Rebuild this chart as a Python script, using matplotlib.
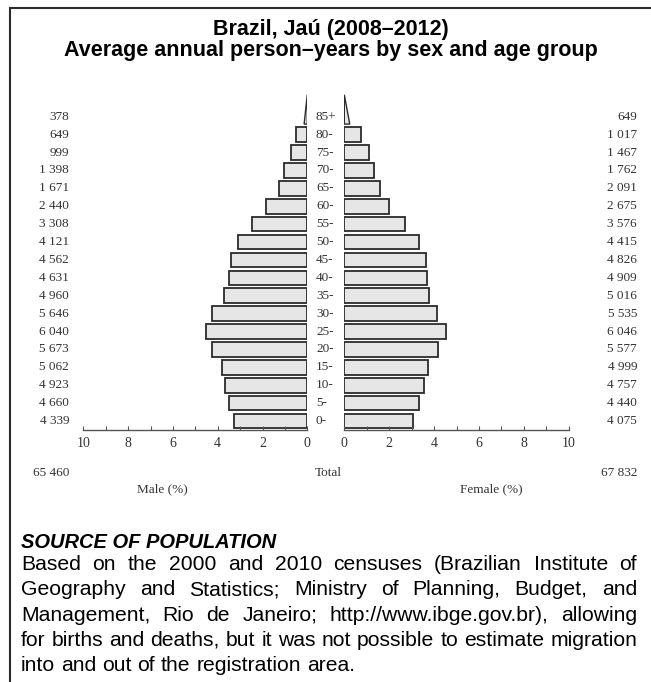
import matplotlib
matplotlib.use('Agg')
from matplotlib import pyplot as plt
from matplotlib.patches import Polygon
from matplotlib.lines import Line2D
import matplotlib.transforms as mtransforms
import numpy as np


age_groups = ['0-', '5-', '10-', '15-', '20-', '25-', '30-', '35-', '40-',
              '45-', '50-', '55-', '60-', '65-', '70-', '75-', '80-', '85+']
male = [4339, 4660, 4923, 5062, 5673, 6040, 5646, 4960, 4631,
        4562, 4121, 3308, 2440, 1671, 1398, 999, 649, 378]
female = [4075, 4440, 4757, 4999, 5577, 6046, 5535, 5016, 4909,
          4826, 4415, 3576, 2675, 2091, 1762, 1467, 1017, 649]
male_total = 65460
female_total = 67832
x_ticks = [0, 2, 4, 6, 8, 10]

title = 'Brazil, Jaú (2008–2012)\nAverage annual person–years by sex and age group'
source_head = 'SOURCE OF POPULATION'
source_lines = [
    'Based on the 2000 and 2010 censuses (Brazilian Institute of',
    'Geography and Statistics; Ministry of Planning, Budget, and',
    'Management, Rio de Janeiro; http://www.ibge.gov.br), allowing',
    'for births and deaths, but it was not possible to estimate migration',
    'into and out of the registration area.',
]

W, H = 651, 682
SERIF = 'Liberation Serif'
SANS = 'Liberation Sans'
EDGE = '#2b2b2b'
FILL = '#e6e6e6'
TXT = '#333333'


def fmt(n):
    return '{:,}'.format(n).replace(',', ' ')


def fx(px):
    return px / W


def fy(py):
    return 1 - py / H


grand = male_total + female_total
male_pct = np.array(male) / grand * 100
female_pct = np.array(female) / grand * 100
rows = np.arange(len(age_groups))

fig = plt.figure(figsize=(W / 100, H / 100), dpi=100)

# frame (top + left only)
fig.add_artist(Line2D([fx(10), 1], [fy(8), fy(8)], color=EDGE, lw=1.5, transform=fig.transFigure))
fig.add_artist(Line2D([fx(10), fx(10)], [fy(8), 0], color=EDGE, lw=1.5, transform=fig.transFigure))

fig.text(fx(331), fy(40), title, ha='center', va='center', fontsize=15.5,
         fontweight='bold', family=SANS, linespacing=1.05)

ax_bottom, ax_top = 430, 85
axL = fig.add_axes([fx(83.3), fy(ax_bottom), fx(307.3) - fx(83.3), (ax_bottom - ax_top) / H])
axR = fig.add_axes([fx(344.3), fy(ax_bottom), fx(568.7) - fx(344.3), (ax_bottom - ax_top) / H])

bar_h = 0.82
for ax, pct in [(axL, male_pct), (axR, female_pct)]:
    ax.barh(rows[:-1], pct[:-1], height=bar_h, color=FILL, edgecolor=EDGE, linewidth=1.3)
    # open-ended top group drawn as a triangle
    base = rows[-1] - bar_h / 2
    tri = Polygon([(0, base), (pct[-1] / 2, base), (0, base + 1.64)], closed=True,
                  facecolor=FILL, edgecolor=EDGE, linewidth=1.0)
    ax.add_patch(tri)
    ax.set_ylim(-0.5, -0.5 + (ax_bottom - ax_top) / 17.9)
    ax.set_facecolor('none')
    for s in ['top', 'left', 'right']:
        ax.spines[s].set_visible(False)
    ax.spines['bottom'].set_color('#555555')
    ax.spines['bottom'].set_linewidth(1.0)
    ax.set_yticks([])
    ax.set_xticks(x_ticks)
    ax.set_xticks(np.arange(1, 10, 2), minor=True)
    ax.tick_params(axis='x', which='both', direction='in', length=3, width=0.8,
                   color='#555555', labelsize=10, labelcolor=TXT, pad=5)
    for lab in ax.get_xticklabels():
        lab.set_family(SERIF)

axL.set_xlim(10, 0)
axR.set_xlim(0, 10)

trans = mtransforms.blended_transform_factory(fig.transFigure, axL.transData)
for i, age in enumerate(age_groups):
    fig.text(fx(69), i, fmt(male[i]), transform=trans, ha='right', va='center',
             fontsize=9.5, family=SERIF, color=TXT)
    fig.text(fx(316), i, age, transform=trans, ha='left', va='center',
             fontsize=9.5, family=SERIF, color=TXT)
    fig.text(fx(637), i, fmt(female[i]), transform=trans, ha='right', va='center',
             fontsize=9.5, family=SERIF, color=TXT)

fig.text(fx(69), fy(473), fmt(male_total), ha='right', va='center', fontsize=9.5, family=SERIF, color=TXT)
fig.text(fx(315), fy(473), 'Total', ha='left', va='center', fontsize=9.5, family=SERIF, color=TXT)
fig.text(fx(637), fy(473), fmt(female_total), ha='right', va='center', fontsize=9.5, family=SERIF, color=TXT)
fig.text(fx(162), fy(489), 'Male (%)', ha='center', va='center', fontsize=9.5, family=SERIF, color=TXT)
fig.text(fx(491), fy(489), 'Female (%)', ha='center', va='center', fontsize=9.5, family=SERIF, color=TXT)

# source block, justified by hand
x0, x1 = 21, 637
fig.text(fx(x0), fy(542), source_head, ha='left', va='center', fontsize=14.5,
         fontweight='bold', fontstyle='italic', family=SANS)

renderer = fig.canvas.get_renderer()
size = 16
widest = 0
for line in source_lines:
    t = fig.text(0, 0, line, fontsize=size, family=SANS)
    widest = max(widest, t.get_window_extent(renderer).width)
    t.remove()
if widest > x1 - x0:
    size = size * (x1 - x0) / widest

y = 570  # baseline of first line
for k, line in enumerate(source_lines):
    words = line.split(' ')
    texts = [fig.text(0, fy(y), w, ha='left', va='baseline', fontsize=size, family=SANS)
             for w in words]
    widths = [t.get_window_extent(renderer).width for t in texts]
    if k < len(source_lines) - 1:
        gap = (x1 - x0 - sum(widths)) / (len(words) - 1)
    else:
        sp = fig.text(0, 0, 'a a', fontsize=size, family=SANS)
        aa = fig.text(0, 0, 'aa', fontsize=size, family=SANS)
        gap = sp.get_window_extent(renderer).width - aa.get_window_extent(renderer).width
        sp.remove()
        aa.remove()
    xpos = x0
    for t, w in zip(texts, widths):
        t.set_x(fx(xpos))
        xpos += w + gap
    y += 25.3

fig.savefig('out.png', dpi=100)
plt.close(fig)
